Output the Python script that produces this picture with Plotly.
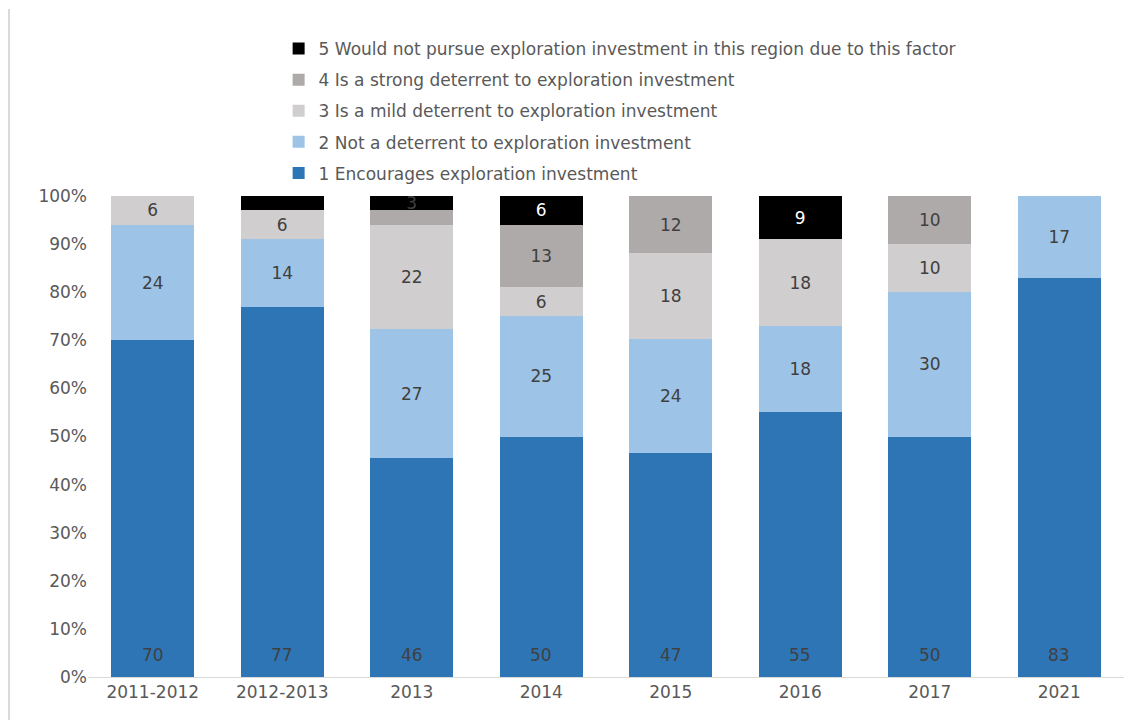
import plotly.graph_objects as go

years = ["2011-2012", "2012-2013", "2013", "2014", "2015", "2016", "2017", "2021"]

s1 = [70, 77, 46, 50, 47, 55, 50, 83]
s2 = [24, 14, 27, 25, 24, 18, 30, 17]
s3 = [6, 6, 22, 6, 18, 18, 10, 0]
s4 = [0, 0, 3, 13, 12, 0, 10, 0]
s5 = [0, 3, 3, 6, 0, 9, 0, 0]

names = [
    "1 Encourages exploration investment",
    "2 Not a deterrent to exploration investment",
    "3 Is a mild deterrent to exploration investment",
    "4 Is a strong deterrent to exploration investment",
    "5 Would not pursue exploration investment in this region due to this factor",
]
COLORS = ["#2E75B6", "#9DC3E6", "#D0CECE", "#AEAAAA", "#000000"]

# labels the original chart leaves out
hide = {1: [], 2: [], 3: [7], 4: [0, 1, 2, 5, 7], 5: [0, 1, 4, 6, 7]}
FONT = "DejaVu Sans"
TXT = "#404040"
GREY = "#595959"

fig = go.Figure()
for i, vals in enumerate([s1, s2, s3, s4, s5], start=1):
    text = ["" if (j in hide[i] or v == 0) else str(v) for j, v in enumerate(vals)]
    if i == 1:
        text = None  # drawn as annotations near the base below
    if i == 5:
        tcol = [TXT if y == "2013" else "white" for y in years]
    else:
        tcol = TXT
    fig.add_trace(go.Bar(
        x=years, y=vals, name=names[i - 1],
        marker=dict(color=COLORS[i - 1], line=dict(width=0)),
        text=text, textposition="inside", textangle=0,
        insidetextanchor="middle",
        textfont=dict(color=tcol, size=17, family=FONT),
        legendgroup=str(i), legendrank=10 - i,
    ))

# "1" labels sit at the bottom of each bar (x = category index)
for j, v in enumerate(s1):
    fig.add_annotation(x=j, y=0, xref="x", yref="y", text=str(v),
                       showarrow=False, yanchor="middle", yshift=22,
                       font=dict(color=TXT, size=17, family=FONT))

fig.update_layout(
    barmode="stack", barnorm="percent", bargap=0.36,
    width=1137, height=720,
    plot_bgcolor="white", paper_bgcolor="white",
    margin=dict(l=80, r=21, t=188, b=51),
    font=dict(family=FONT, size=17, color=GREY),
    uniformtext=dict(minsize=17, mode="show"),
    legend=dict(
        traceorder="grouped", tracegroupgap=6,
        x=0.184, y=1.343, xanchor="left", yanchor="top",
        font=dict(size=17, color=GREY),
        itemwidth=30,
    ),
    xaxis=dict(
        type="category",
        showline=True, linecolor="#D9D9D9", linewidth=1,
        ticks="", tickfont=dict(size=17, color=GREY),
        range=[-0.5, 7.5],
    ),
    yaxis=dict(
        range=[0, 100], tickvals=list(range(0, 101, 10)),
        ticktext=[f"{v}%" for v in range(0, 101, 10)],
        showgrid=False, zeroline=False, showline=False,
        tickfont=dict(size=17, color=GREY), ticklen=0,
    ),
)
fig.add_shape(type="line", xref="paper", yref="paper",
              x0=-0.0762, x1=-0.0762, y0=-0.2, y1=1.389,
              line=dict(color="#D9D9D9", width=2))

fig.write_html("out.html")
